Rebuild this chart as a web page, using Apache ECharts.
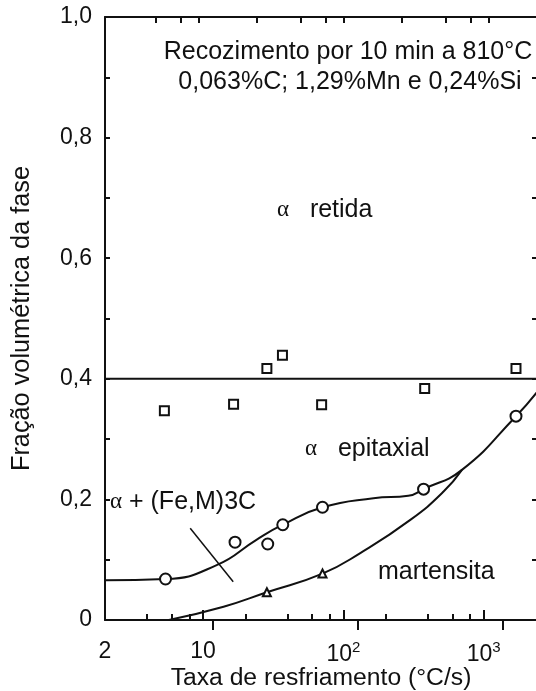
<!DOCTYPE html>
<html>
<head>
<meta charset="utf-8">
<script src="https://cdn.jsdelivr.net/npm/echarts@6/dist/echarts.min.js"></script>
<style>
  html, body { margin: 0; padding: 0; background: #fff; }
  #chart { width: 536px; height: 691px; }
</style>
</head>
<body>
<div id="chart"></div>
<script>
// Cooling rate (°C/s) and phase volume fractions
const retainedAlphaX = [5.3, 16.5, 28.5, 36.8, 70, 380, 1700];
const retainedAlphaY = [0.347, 0.358, 0.417, 0.439, 0.357, 0.384, 0.417];

const carbideX = [5.4, 16.9, 28.9, 37, 71, 373, 1700];
const carbideY = [0.068, 0.129, 0.126, 0.158, 0.187, 0.217, 0.338];

const martensiteX = [28.5, 71];
const martensiteY = [0.046, 0.077];

// Mean retained-ferrite fraction
const retainedMean = 0.4;

// Boundary between α + (Fe,M)3C and epitaxial α
const upperCurveX = [2, 5.4, 12.5, 24, 37, 71, 164, 290, 373, 700, 1700, 2400];
const upperCurveY = [0.066, 0.068, 0.091, 0.133, 0.158, 0.187, 0.202, 0.206, 0.217, 0.249, 0.338, 0.378];

// Boundary of martensite
const lowerCurveX = [5.7, 14, 28.5, 71, 132, 300, 518, 700];
const lowerCurveY = [0, 0.022, 0.046, 0.077, 0.111, 0.166, 0.213, 0.249];

// Leader line for the α + (Fe,M)3C label
const leaderX = [8.1, 16.4];
const leaderY = [0.152, 0.0635];

// Axis ticks and labels (rich-text markup for the powers of ten)
const xLabelValues = [2, 10, 100, 1000];
const xLabelText = ['2', '10', '10{s|2}', '10{s|3}'];
const xMajorTicks = [10, 100, 1000];
const xMinorTicks = [4, 6, 8, 20, 40, 60, 80, 200, 400, 600, 800];

const zip = (xs, ys) => xs.map((x, i) => [x, ys[i]]);

const FONT = '"Liberation Sans", Arial, Helvetica, sans-serif';
const SERIF = '"Liberation Serif", "Times New Roman", serif';
const INK = '#111';
const tickLine = { color: INK, width: 2 };
const hollow = { color: '#fff', borderColor: INK, borderWidth: 2, opacity: 1 };

const chart = echarts.init(document.getElementById('chart'));

function note(x, y, text, align) {
  return {
    type: 'text', z: 100,
    style: {
      x, y, text, align: align || 'left', verticalAlign: 'middle',
      font: '25px ' + FONT, fill: INK,
      rich: { a: { fontFamily: SERIF, fontSize: 23, fill: INK } }
    }
  };
}

chart.setOption({
  backgroundColor: '#fff',
  animation: false,
  grid: { left: 105, top: 17, width: 432, height: 603, outerBoundsMode: 'none' },
  xAxis: [
    {
      type: 'log', position: 'bottom', min: 2, max: 2400, splitLine: { show: false },
      axisLine: { show: true, onZero: false, lineStyle: tickLine },
      axisTick: { show: true, inside: true, length: 6, customValues: xMinorTicks, lineStyle: tickLine },
      axisLabel: {
        show: true, customValues: xLabelValues, margin: 20,
        fontFamily: FONT, fontSize: 23, color: INK,
        rich: { s: { fontFamily: FONT, fontSize: 15, color: INK, padding: [0, 0, 14, 0] } },
        formatter: v => {
          const i = xLabelValues.findIndex(t => Math.abs(Math.log10(t) - Math.log10(v)) < 1e-6);
          return i >= 0 ? xLabelText[i] : '';
        }
      },
      name: 'Taxa de resfriamento (°C/s)', nameLocation: 'middle', nameGap: 46, nameMoveOverlap: false,
      nameTextStyle: { fontFamily: FONT, fontSize: 24.7, color: INK }
    },
    {
      type: 'log', position: 'bottom', min: 2, max: 2400, splitLine: { show: false },
      axisLine: { show: false }, axisLabel: { show: false },
      axisTick: { show: true, inside: true, length: 10, customValues: xMajorTicks, lineStyle: tickLine }
    },
    // top frame carries its own, slightly offset tick marks
    {
      type: 'log', position: 'top', min: 1.8, max: 1715, splitLine: { show: false },
      axisLine: { show: true, onZero: false, lineStyle: tickLine }, axisLabel: { show: false },
      axisTick: { show: true, inside: true, length: 6, customValues: xMinorTicks, lineStyle: tickLine }
    },
    {
      type: 'log', position: 'top', min: 1.8, max: 1715, splitLine: { show: false },
      axisLine: { show: false }, axisLabel: { show: false },
      axisTick: { show: true, inside: true, length: 10, customValues: xMajorTicks, lineStyle: tickLine }
    }
  ],
  yAxis: [
    {
      type: 'value', min: 0, max: 1, interval: 0.1, position: 'left', splitLine: { show: false },
      axisLine: { show: true, onZero: false, lineStyle: tickLine },
      axisTick: { show: true, inside: true, length: 5, lineStyle: tickLine },
      axisLabel: {
        margin: 13, fontFamily: FONT, fontSize: 23, color: INK,
        formatter: v => {
          const k = Math.round(v * 10);
          if (k % 2) return '';
          return k === 0 ? '0' : (k / 10).toFixed(1).replace('.', ',');
        }
      },
      name: 'Fração volumétrica da fase', nameLocation: 'middle', nameGap: 70, nameMoveOverlap: false,
      nameTextStyle: { fontFamily: FONT, fontSize: 25.3, color: INK }
    },
    {
      type: 'value', min: 0, max: 1, interval: 0.1, position: 'right', splitLine: { show: false },
      axisLine: { show: true, onZero: false, lineStyle: tickLine },
      axisTick: { show: true, inside: true, length: 5, lineStyle: tickLine },
      axisLabel: { show: false }
    }
  ],
  series: [
    { type: 'line', data: [[2, retainedMean], [2400, retainedMean]], symbol: 'none', lineStyle: { color: INK, width: 2 } },
    { type: 'line', data: zip(upperCurveX, upperCurveY), symbol: 'none', smooth: 0.5, lineStyle: { color: INK, width: 2 } },
    { type: 'line', data: zip(lowerCurveX, lowerCurveY), symbol: 'none', smooth: 0.5, lineStyle: { color: INK, width: 2 } },
    { type: 'line', data: zip(leaderX, leaderY), symbol: 'none', lineStyle: { color: INK, width: 1.5 } },
    { type: 'scatter', data: zip(retainedAlphaX, retainedAlphaY), symbol: 'rect', symbolSize: 9, itemStyle: hollow, z: 5 },
    { type: 'scatter', data: zip(carbideX, carbideY), symbol: 'circle', symbolSize: 11, itemStyle: hollow, z: 5 },
    { type: 'scatter', data: zip(martensiteX, martensiteY), symbol: 'triangle', symbolSize: 8, itemStyle: hollow, z: 5 }
  ],
  graphic: [
    note(348, 52, 'Recozimento por 10 min a 810°C', 'center'),
    note(350, 82, '0,063%C; 1,29%Mn e 0,24%Si', 'center'),
    note(277, 210, '{a|α}   retida'),
    note(305, 449, '{a|α}   epitaxial'),
    note(110, 502, '{a|α} + (Fe,M)3C'),
    note(378, 572, 'martensita')
  ]
});
</script>
</body>
</html>
